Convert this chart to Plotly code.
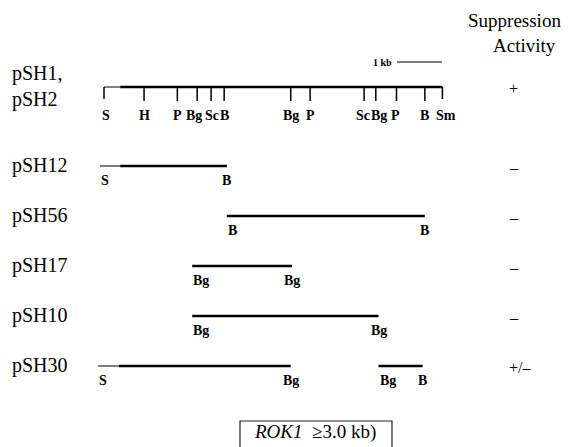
import plotly.graph_objects as go

# ---------------- data ----------------
site_labels = ["S", "H", "P", "Bg", "Sc", "B", "Bg", "P", "Sc", "Bg", "P", "B", "Sm"]
site_kb = [0.0, 0.89, 1.63, 2.07, 2.38, 2.67, 4.15, 4.58, 5.78, 6.04, 6.50, 7.13, 7.52]
map_insert_start = 0.36   # thick insert starts here on the pSH1/pSH2 map

construct_names = ["pSH1,<br>pSH2", "pSH12", "pSH56", "pSH17", "pSH10", "pSH30"]
activity = ["+", "–", "–", "–", "–", "+/–"]

# subclone fragments (row index into construct_names, kb coordinates)
frag_row = [1, 2, 3, 4, 5, 5]
frag_start = [0.36, 2.73, 1.96, 1.96, 0.33, 6.10]
frag_end = [2.73, 7.13, 4.18, 6.10, 4.15, 7.08]
frag_left_label = ["S", "B", "Bg", "Bg", "S", "Bg"]
frag_right_label = ["B", "B", "Bg", "Bg", "Bg", "B"]

# thin vector lead-ins
lead_row = [1, 5]
lead_start = [-0.09, -0.13]
lead_end = [0.36, 0.33]

# ---------------- layout helpers ----------------
W, H = 569, 447
BODY = 8                      # default page margin around the plot div
KB_PX, ORIGIN_PX = 45.0, 104.0
row_y = [87, 166, 216, 266, 316, 366]        # pixel rows (window coords)
SERIF = "Liberation Serif, Times New Roman, serif"
# small horizontal nudges (px) of crowded site labels on the map
label_nudge = {0: 2, 3: -3, 4: 1, 8: -1, 9: 3, 10: -1, 12: 4}


def px2kb(p):
    return (p - ORIGIN_PX) / KB_PX


fig = go.Figure()

# main restriction map: thin lead, thick insert, ticks, end brackets
y0 = row_y[0]
fig.add_trace(go.Scatter(x=[site_kb[0], map_insert_start], y=[y0, y0], mode="lines",
                         line=dict(color="black", width=1), hoverinfo="skip"))
fig.add_trace(go.Scatter(x=[map_insert_start, site_kb[-1]], y=[y0, y0], mode="lines",
                         line=dict(color="black", width=2.5), hoverinfo="skip"))
tx, ty = [], []
for i, s in enumerate(site_kb):
    depth = 12 if i in (0, len(site_kb) - 1) else 14
    tx += [s, s, None]
    ty += [y0, y0 + depth, None]
fig.add_trace(go.Scatter(x=tx, y=ty, mode="lines",
                         line=dict(color="black", width=1.5), hoverinfo="skip"))
for i, (lab, s) in enumerate(zip(site_labels, site_kb)):
    fig.add_annotation(x=s, y=y0 + 28, xref="x", yref="y", text=f"<b>{lab}</b>",
                       showarrow=False, xanchor="center", yanchor="middle",
                       xshift=label_nudge.get(i, 0),
                       font=dict(family=SERIF, size=14, color="black"))

# lead-ins
for r, a, b in zip(lead_row, lead_start, lead_end):
    fig.add_trace(go.Scatter(x=[a, b], y=[row_y[r]] * 2, mode="lines",
                             line=dict(color="black", width=1), hoverinfo="skip"))

# fragments
for r, a, b, ll, rl in zip(frag_row, frag_start, frag_end, frag_left_label, frag_right_label):
    y = row_y[r]
    fig.add_trace(go.Scatter(x=[a, b], y=[y, y], mode="lines",
                             line=dict(color="black", width=2.5), hoverinfo="skip"))
    lx = a
    if r in lead_row and ll == "S":
        lx = lead_start[lead_row.index(r)]
    fig.add_annotation(x=lx, y=y + 14, xref="x", yref="y", text=f"<b>{ll}</b>",
                       showarrow=False, xanchor="left", yanchor="middle", xshift=-1,
                       font=dict(family=SERIF, size=14, color="black"))
    fig.add_annotation(x=b, y=y + 14, xref="x", yref="y", text=f"<b>{rl}</b>",
                       showarrow=False, xanchor="center", yanchor="middle",
                       font=dict(family=SERIF, size=14, color="black"))

# construct names and activity
for i, (name, act) in enumerate(zip(construct_names, activity)):
    y = row_y[i] - 1
    fig.add_annotation(x=px2kb(10), y=y, xref="x", yref="y", text=name, showarrow=False,
                       xanchor="left", yanchor="middle", align="left",
                       font=dict(family=SERIF, size=20, color="black"))
    fig.add_annotation(x=px2kb(507), y=row_y[i] + 1, xref="x", yref="y", text=act,
                       showarrow=False, xanchor="left", yanchor="middle",
                       font=dict(family=SERIF, size=16, color="black"))

# header
fig.add_annotation(x=px2kb(514), y=20, xref="x", yref="y", text="Suppression",
                   showarrow=False, xanchor="center", yanchor="middle",
                   font=dict(family=SERIF, size=19, color="black"))
fig.add_annotation(x=px2kb(524), y=45, xref="x", yref="y", text="Activity",
                   showarrow=False, xanchor="center", yanchor="middle",
                   font=dict(family=SERIF, size=19, color="black"))

# 1 kb scale bar
fig.add_annotation(x=px2kb(394), y=62, xref="x", yref="y", text="<b>1 kb</b>",
                   showarrow=False, xanchor="right", yanchor="middle",
                   font=dict(family=SERIF, size=10, color="black"))
fig.add_shape(type="line", xref="x", yref="y", x0=px2kb(397), x1=px2kb(397) + 1.0,
              y0=62, y1=62, line=dict(color="black", width=1))

# ROK1 box
fig.add_shape(type="rect", xref="x", yref="y", x0=px2kb(240), x1=px2kb(392),
              y0=421, y1=452, line=dict(color="#222", width=1.2))
fig.add_annotation(x=px2kb(315), y=432, xref="x", yref="y",
                   text="<i>ROK1</i>  ≥3.0 kb)", showarrow=False,
                   xanchor="center", yanchor="middle",
                   font=dict(family=SERIF, size=19, color="black"))

fig.update_layout(
    width=W - BODY, height=H - BODY, margin=dict(l=0, r=0, t=0, b=0),
    paper_bgcolor="white", plot_bgcolor="white", showlegend=False,
    xaxis=dict(range=[px2kb(BODY), px2kb(W)], visible=False, fixedrange=True),
    yaxis=dict(range=[H, BODY], visible=False, fixedrange=True),
)

fig.write_html("out.html")
